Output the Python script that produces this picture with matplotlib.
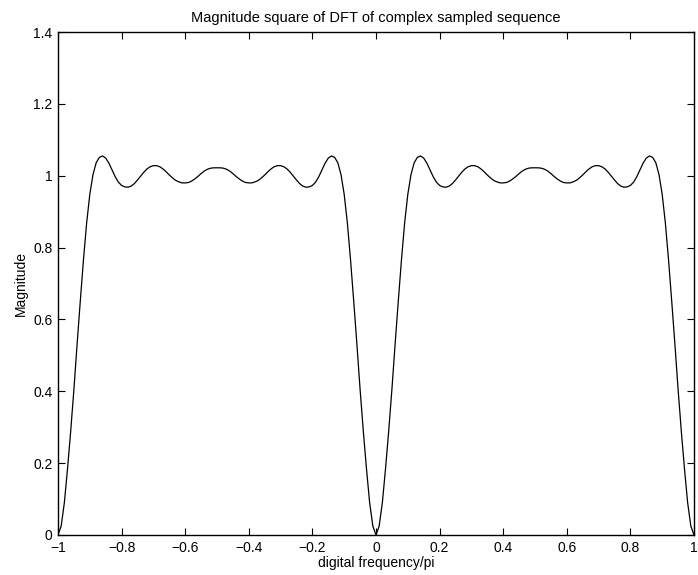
import numpy as np
import matplotlib
matplotlib.use("Agg")
import matplotlib.pyplot as plt

plt.rcParams["font.family"] = ["Liberation Sans", "DejaVu Sans"]

# digital frequency / pi, sampled every 0.01 from -1 to 1
freq = np.round(np.arange(-100, 101) / 100, 2)

# |X|^2, x = -1.00 ... 0.00
mag_left = [
    0.000, 0.025, 0.090, 0.185, 0.290, 0.405, 0.530, 0.650, 0.765, 0.868,
    0.948, 1.003, 1.036, 1.051, 1.055, 1.049, 1.035, 1.016, 0.997, 0.982,
    0.973, 0.969, 0.968, 0.971, 0.978, 0.988, 0.999, 1.010, 1.019, 1.025,
    1.028, 1.028, 1.025, 1.019, 1.011, 1.002, 0.994, 0.987, 0.983, 0.980,
    0.980, 0.981, 0.985, 0.991, 0.998, 1.006, 1.013, 1.018, 1.021, 1.022,
    1.022,
    1.022, 1.021, 1.018, 1.013, 1.006, 0.998, 0.991, 0.985, 0.981, 0.980,
    0.980, 0.983, 0.987, 0.994, 1.002, 1.011, 1.019, 1.025, 1.028, 1.028,
    1.025, 1.019, 1.010, 0.999, 0.988, 0.978, 0.971, 0.968, 0.969, 0.973,
    0.982, 0.997, 1.016, 1.035, 1.049, 1.055, 1.051, 1.036, 1.003, 0.948,
    0.868, 0.765, 0.650, 0.530, 0.405, 0.290, 0.185, 0.090, 0.025, 0.000,
]
# x = 0.01 ... 1.00
mag_right = [
    0.025, 0.090, 0.185, 0.290, 0.405, 0.530, 0.650, 0.765, 0.868,
    0.948, 1.003, 1.036, 1.051, 1.055, 1.049, 1.035, 1.016, 0.997, 0.982,
    0.973, 0.969, 0.968, 0.971, 0.978, 0.988, 0.999, 1.010, 1.019, 1.025,
    1.028, 1.028, 1.025, 1.019, 1.011, 1.002, 0.994, 0.987, 0.983, 0.980,
    0.980, 0.981, 0.985, 0.991, 0.998, 1.006, 1.013, 1.018, 1.021, 1.022,
    1.022,
    1.022, 1.021, 1.018, 1.013, 1.006, 0.998, 0.991, 0.985, 0.981, 0.980,
    0.980, 0.983, 0.987, 0.994, 1.002, 1.011, 1.019, 1.025, 1.028, 1.028,
    1.025, 1.019, 1.010, 0.999, 0.988, 0.978, 0.971, 0.968, 0.969, 0.973,
    0.982, 0.997, 1.016, 1.035, 1.049, 1.055, 1.051, 1.036, 1.003, 0.948,
    0.868, 0.765, 0.650, 0.530, 0.405, 0.290, 0.185, 0.090, 0.025, 0.000,
]
mag = mag_left + mag_right

xticks = [-1, -0.8, -0.6, -0.4, -0.2, 0, 0.2, 0.4, 0.6, 0.8, 1]
xtick_labels = ["\u22121", "\u22120.8", "\u22120.6", "\u22120.4", "\u22120.2",
                "0", "0.2", "0.4", "0.6", "0.8", "1"]
yticks = [0, 0.2, 0.4, 0.6, 0.8, 1, 1.2, 1.4]
ytick_labels = ["0", "0.2", "0.4", "0.6", "0.8", "1", "1.2", "1.4"]

fig = plt.figure(figsize=(6.98, 5.75), dpi=100)
ax = fig.add_axes([58 / 698, 1 - 535 / 575, 636 / 698, 503 / 575])
ax.plot(freq, mag, color="black", lw=0.9)

ax.set_xlim(-1, 1)
ax.set_ylim(0, 1.4)
ax.set_xticks(xticks)
ax.set_xticklabels(xtick_labels)
ax.set_yticks(yticks)
ax.set_yticklabels(ytick_labels)
ax.tick_params(direction="in", length=5, width=0.8, top=True, right=True,
               labelsize=10, pad=4)
for s in ax.spines.values():
    s.set_linewidth(1.0)

ax.set_title("Magnitude square of DFT of complex sampled sequence",
             fontsize=10.5, pad=7)
ax.set_xlabel("digital frequency/pi", fontsize=10, labelpad=1)
ax.set_ylabel("Magnitude", fontsize=10, labelpad=4)

fig.savefig("out.png", dpi=100)
